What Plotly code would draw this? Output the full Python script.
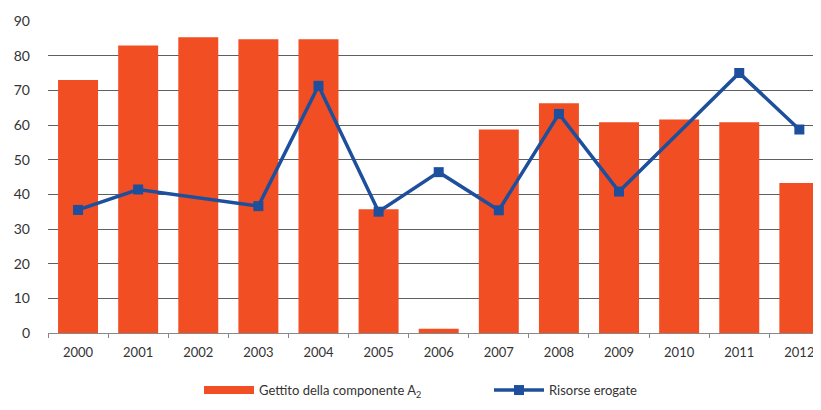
import plotly.graph_objects as go

years = ["2000", "2001", "2002", "2003", "2004", "2005", "2006",
         "2007", "2008", "2009", "2010", "2011", "2012"]
gettito = [73.0, 82.9, 85.3, 84.7, 84.7, 35.7, 1.2, 58.7, 66.3, 60.8, 61.6, 60.8, 43.3]
risorse = [35.5, 41.4, None, 36.6, 71.3, 35.0, 46.4, 35.4, 63.2, 40.8, None, 75.0, 58.7]
y_ticks = [0, 10, 20, 30, 40, 50, 60, 70, 80, 90]

BAR = "#F24E23"
LINE = "#1E4F9C"
FONT = "Lato, 'Open Sans', sans-serif"

fig = go.Figure()
fig.add_trace(go.Bar(
    x=years, y=gettito, name="Gettito della componente A<sub>2</sub>",
    marker=dict(color=BAR, line=dict(width=0)), showlegend=False,
))
# legend entry for the bars, drawn as a wide bar swatch
fig.add_trace(go.Scatter(
    x=[None], y=[None], name="Gettito della componente A<sub>2</sub>", mode="lines",
    line=dict(color=BAR, width=8), hoverinfo="skip",
))
fig.add_trace(go.Scatter(
    x=years, y=risorse, name="Risorse erogate", mode="lines+markers",
    connectgaps=True,
    line=dict(color=LINE, width=3.5),
    marker=dict(symbol="square", size=10, color=LINE),
))

fig.update_layout(
    width=813, height=402,
    margin=dict(l=40, r=0, t=13, b=77, autoexpand=False),
    paper_bgcolor="white", plot_bgcolor="white",
    bargap=0.335,
    font=dict(family=FONT, size=13, color="#333333"),
    showlegend=True,
    legend=dict(orientation="h", x=0.5705, xanchor="center", y=-0.183, yanchor="middle",
                font=dict(size=13, color="#333333"), itemwidth=50,
                entrywidth=225, entrywidthmode="pixels"),
    xaxis=dict(
        type="category", range=[-0.5, 12.36], automargin=False,
        showline=True, linecolor="#888888", linewidth=1,
        ticks="outside", tickson="boundaries", ticklen=4, tickcolor="#888888",
        showgrid=False, tickfont=dict(size=13, color="#333333"),
        ticklabelstandoff=7,
    ),
    yaxis=dict(
        range=[0, 90], tickvals=y_ticks, automargin=False,
        showgrid=True, gridcolor="#5f5f5f", gridwidth=1,
        zeroline=False, showline=False, ticks="",
        tickfont=dict(size=14, color="#333333"),
        ticklabelstandoff=17,
    ),
)

fig.write_html("out.html")
